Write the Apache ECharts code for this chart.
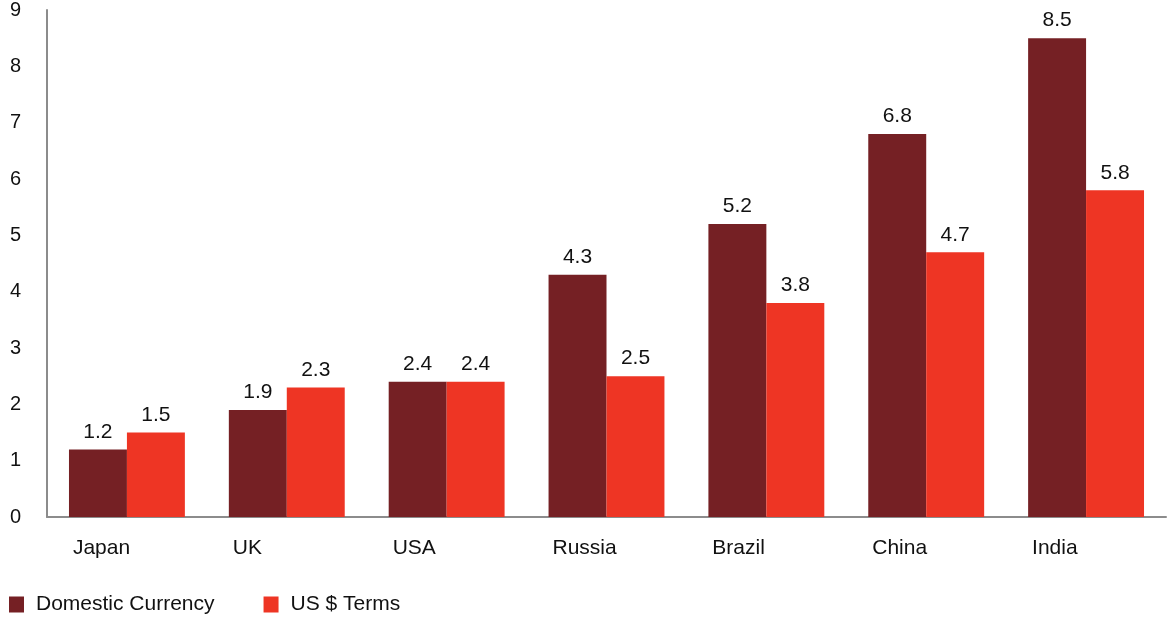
<!DOCTYPE html>
<html><head><meta charset="utf-8">
<script src="https://cdn.jsdelivr.net/npm/echarts@6/dist/echarts.min.js"></script>
<style>html,body{margin:0;padding:0;background:#fff}#c{width:1171px;height:618px}</style>
</head><body><div id="c"></div>
<script>
const categories = ['Japan','UK','USA','Russia','Brazil','China','India'];
const domestic = [1.2,1.9,2.4,4.3,5.2,6.8,8.5];
const usd = [1.5,2.3,2.4,2.5,3.8,4.7,5.8];
const seriesNames = ['Domestic Currency','US $ Terms'];
const FONT = '"Liberation Sans", Arial, sans-serif';
const chart = echarts.init(document.getElementById('c'));
const lbl = {show:true, position:'top', distance:7, color:'#111', fontSize:21, fontFamily:FONT};
chart.setOption({
  animation:false,
  grid:{left:47, right:5, top:10, bottom:101, containLabel:false},
  legend:{
    left:9, top:594, padding:0, itemWidth:15, itemHeight:16, itemGap:49, icon:'rect',
    textStyle:{fontSize:21, color:'#111', fontFamily:FONT, padding:[0,0,0,7]},
    data:seriesNames
  },
  xAxis:{
    type:'category', data:categories,
    axisLine:{lineStyle:{color:'#8c8c8c', width:2}},
    axisTick:{show:false},
    axisLabel:{
      margin:21, fontSize:21, color:'#111', fontFamily:FONT,
      formatter: v => '{a|' + v + '}',
      rich:{a:{width:108, align:'left', fontSize:21, color:'#111', fontFamily:FONT}}
    }
  },
  yAxis:{
    type:'value', min:0, max:9, interval:1,
    splitLine:{show:false},
    axisLine:{show:true, lineStyle:{color:'#8c8c8c', width:2}},
    axisTick:{show:false},
    axisLabel:{margin:37, align:'left', fontSize:20, color:'#111', fontFamily:FONT}
  },
  series:[
    {name:seriesNames[0], type:'bar', data:domestic, barGap:'0%', barCategoryGap:'27.5%',
     itemStyle:{color:'#752024'}, label:lbl},
    {name:seriesNames[1], type:'bar', data:usd,
     itemStyle:{color:'#EE3524'}, label:lbl}
  ]
});
</script></body></html>
